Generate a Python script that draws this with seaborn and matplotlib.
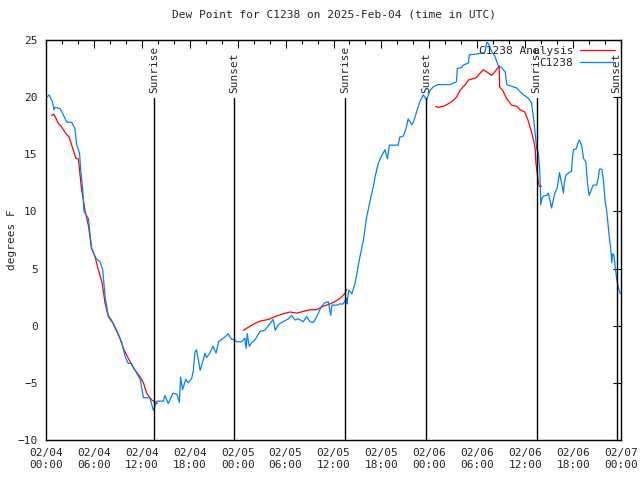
"""Dew point time series for station C1238 with sunrise/sunset markers"""
import matplotlib
matplotlib.use("Agg")
import matplotlib.pyplot as plt
import matplotlib.dates as mdates
import seaborn as sns
import pandas as pd
import numpy as np

# observed dew point (hours since 2025-02-04 00:00 UTC, degrees F)
obs_hours = [
    0.1, 0.4, 0.8, 1.0, 1.1, 1.75, 2.0, 2.6, 3.2, 3.6, 3.85, 4.2, 4.35, 4.6, 4.75,
    5.3, 5.7, 6.25, 6.75, 7.1, 7.4, 7.8, 8.2, 9.05, 9.5, 9.9, 10.3, 10.7, 11.15,
    11.8, 12.2, 13.0, 13.45, 13.9, 14.7, 14.9, 15.3, 15.9, 16.4, 16.7, 16.85, 17.1,
    17.5, 17.8, 18.25, 18.45, 18.65, 18.85, 19.3, 19.7, 19.9, 20.1, 20.5, 20.9,
    21.3, 21.6, 22.0, 22.4, 22.8, 23.25, 23.45, 23.9, 24.5, 24.9, 25.05, 25.2,
    25.45, 25.75, 26.2, 26.8, 27.4, 27.85, 28.45, 28.7, 29.1, 29.7, 30.35, 30.75,
    31.2, 31.6, 32.2, 32.65, 33.05, 33.5, 33.9, 34.5, 34.9, 35.35, 35.65, 35.8,
    36.4, 36.7, 37.2, 37.65, 37.7, 37.9, 38.3, 38.7, 39.3, 39.75, 40.15, 40.6,
    41.0, 41.2, 41.6, 42.05, 42.45, 42.75, 43.0, 44.1, 44.3, 44.75, 45.1, 45.35,
    45.8, 46.0, 46.4, 46.8, 47.25, 47.65, 48.1, 48.5, 49.1, 50.6, 51.4, 51.5,
    52.05, 52.25, 52.9, 53.0, 54.1, 54.95, 55.2, 55.4, 55.8, 56.2, 56.65, 57.05,
    57.5, 57.7, 58.5, 58.95, 59.35, 59.8, 60.2, 60.4, 60.8, 61.05, 61.25, 61.45,
    61.65, 61.8, 61.9, 61.95, 62.1, 62.3, 62.7, 62.9, 63.1, 63.3, 63.5, 63.7,
    64.0, 64.3, 64.55, 64.8, 64.9, 65.1, 65.5, 65.8, 65.95, 66.05, 66.4, 66.65,
    66.8, 67.1, 67.3, 67.6, 67.8, 68.0, 68.3, 68.5, 68.95, 69.15, 69.3, 69.6,
    69.8, 70.0, 70.2, 70.4, 70.55, 70.7, 70.85, 70.95, 71.1, 71.25, 71.45, 71.65,
    71.9,
]
obs_dewpt = [
    20.0, 20.2, 19.6, 18.9, 19.1, 19.0, 18.7, 17.8, 17.8, 17.3, 15.8, 15.1, 13.6,
    11.9, 10.0, 9.4, 6.8, 5.9, 5.6, 4.9, 2.5, 0.9, 0.5, -0.7, -1.5, -2.7, -3.3,
    -3.3, -3.9, -4.7, -6.3, -6.3, -7.4, -6.6, -6.6, -6.1, -6.8, -5.9, -6.0, -6.7,
    -4.5, -5.6, -4.7, -5.0, -4.6, -3.9, -2.3, -2.1, -3.9, -3.0, -2.4, -2.8, -2.4,
    -1.8, -2.4, -1.4, -1.2, -1.0, -0.7, -1.2, -1.2, -1.4, -1.4, -1.1, -2.0, -0.7,
    -1.8, -1.5, -1.2, -0.5, -0.4, 0.0, 0.55, -0.4, 0.1, 0.35, 0.6, 0.9, 0.5, 0.6,
    0.35, 0.8, 0.35, 0.3, 0.8, 1.7, 2.0, 2.1, 0.9, 1.8, 1.8, 1.9, 1.9, 2.4, 1.9,
    3.1, 2.8, 3.7, 6.0, 7.5, 9.5, 11.0, 12.2, 13.0, 14.2, 14.9, 15.4, 14.6, 15.8,
    15.8, 16.5, 16.6, 17.3, 18.1, 17.6, 17.8, 18.7, 19.6, 20.2, 19.75, 20.6, 20.9,
    21.1, 21.1, 21.35, 22.5, 22.6, 22.8, 23.0, 23.7, 23.8, 23.9, 24.8, 24.7, 24.0,
    23.6, 22.7, 22.6, 22.2, 21.1, 20.9, 20.8, 20.5, 20.2, 20.0, 19.9, 19.5, 18.15,
    16.8, 15.5, 15.1, 13.9, 12.2, 10.6, 11.15, 11.35, 11.4, 11.6, 11.0, 10.3, 10.9,
    11.6, 12.0, 13.4, 12.5, 11.6, 12.5, 13.2, 13.4, 13.5, 14.9, 15.4, 15.5, 16.1,
    16.25, 15.7, 14.65, 14.35, 12.5, 11.4, 11.9, 12.3, 12.3, 12.9, 13.7, 13.7,
    12.75, 11.0, 10.1, 8.7, 7.65, 6.9, 5.5, 6.3, 6.2, 5.3, 4.15, 3.4, 2.8,
]

# analysis dew point, three separate runs
ana_hours_1 = [
    0.7, 1.0, 1.55, 1.95, 2.5, 2.9, 3.4, 3.75, 4.05, 4.25, 4.45, 4.65, 4.9, 5.3,
    5.7, 6.15, 6.55, 7.0, 7.4, 7.8, 8.4, 8.85, 9.25, 9.7, 10.3, 10.95, 11.8, 12.2,
    12.6, 13.25, 13.95,
]
ana_dewpt_1 = [
    18.4, 18.5, 17.7, 17.4, 16.8, 16.5, 15.4, 14.65, 14.6, 13.3, 11.9, 11.15, 10.0,
    8.8, 6.8, 6.0, 4.9, 3.85, 1.95, 0.8, 0.2, -0.5, -1.1, -2.0, -2.85, -3.7, -4.5,
    -5.0, -5.9, -6.5, -6.8,
]
ana_hours_2 = [
    24.7, 25.3, 26.15, 26.8, 27.85, 28.7, 29.5, 30.55, 31.4, 32.2, 33.05, 33.9,
    34.7, 35.55, 36.4, 37.0, 37.45, 37.65,
]
ana_dewpt_2 = [
    -0.4, -0.15, 0.2, 0.4, 0.55, 0.8, 1.0, 1.2, 1.1, 1.25, 1.4, 1.4, 1.7, 1.9,
    2.2, 2.5, 2.85, 3.2,
]
ana_hours_3 = [
    48.8, 49.1, 49.95, 50.8, 51.4, 51.85, 52.5, 52.9, 53.9, 54.35, 54.75, 55.2,
    55.8, 56.2, 56.75, 56.8, 57.25, 57.65, 58.3, 58.95, 59.35, 59.95, 60.35, 60.8,
    61.1, 61.25, 61.35, 61.65, 61.75, 62.05,
]
ana_dewpt_3 = [
    19.2, 19.1, 19.25, 19.6, 20.0, 20.6, 21.1, 21.5, 21.7, 22.1, 22.4, 22.2, 21.9,
    22.2, 22.75, 20.9, 20.5, 19.9, 19.3, 19.2, 18.9, 18.7, 18.0, 16.95, 16.1, 15.5,
    14.2, 12.6, 12.2, 12.2,
]

# sunrise / sunset (hours since start)
sun_hours = [13.5, 23.55, 37.5, 47.57, 61.45, 71.45]
sun_labels = ["Sunrise", "Sunset", "Sunrise", "Sunset", "Sunrise", "Sunset"]

start = pd.Timestamp("2025-02-04 00:00")


def to_time(hours):
    return start + pd.to_timedelta(np.array(hours), unit="h")


obs = pd.DataFrame({"time": to_time(obs_hours), "dewpt": obs_dewpt})
ana_runs = [
    pd.DataFrame({"time": to_time(h), "dewpt": v})
    for h, v in [(ana_hours_1, ana_dewpt_1), (ana_hours_2, ana_dewpt_2),
                 (ana_hours_3, ana_dewpt_3)]
]

sns.set_theme(style="white")
plt.rcParams["font.family"] = ["DejaVu Sans Mono"]

fig = plt.figure(figsize=(6.4, 4.8), dpi=100)
ax = fig.add_axes([46 / 640, 1 - 440 / 480, 575 / 640, 400 / 480])

for i, run in enumerate(ana_runs):
    sns.lineplot(data=run, x="time", y="dewpt", color="#ff0000", linewidth=0.9,
                 ax=ax, label="C1238 Analysis" if i == 0 else None,
                 legend=(i == 0))
sns.lineplot(data=obs, x="time", y="dewpt", color="#0080ff", linewidth=0.9,
             ax=ax, label="C1238")

for h, lab in zip(sun_hours, sun_labels):
    t = to_time([h])[0]
    ax.plot([t, t], [-10, 19.9], color="black", linewidth=1.0)
    ax.text(t, 20.4, lab, rotation=90, ha="center", va="bottom", fontsize=8)

ax.set_xlim(start, start + pd.Timedelta(hours=72))
ax.set_ylim(-10, 25)
ax.set_yticks(range(-10, 30, 5))
ax.xaxis.set_major_locator(mdates.HourLocator(byhour=[0, 6, 12, 18]))
ax.xaxis.set_minor_locator(mdates.HourLocator(interval=2))
ax.xaxis.set_major_formatter(mdates.DateFormatter("%m/%d\n%H:%M"))
ax.tick_params(which="both", direction="in", top=True, right=True,
               labelsize=8, color="black", width=0.8)
ax.tick_params(which="major", length=6, pad=6)
ax.tick_params(which="minor", length=3)
for sp in ax.spines.values():
    sp.set_color("black")
    sp.set_linewidth(1.0)

ax.set_xlabel("")
ax.set_ylabel("degrees F", fontsize=8)
ax.yaxis.set_label_coords(-0.05, 0.5)
ax.set_title("Dew Point for C1238 on 2025-Feb-04 (time in UTC)", fontsize=8, pad=16)

handles, labels = ax.get_legend_handles_labels()
keep = {}
for hnd, lab in zip(handles, labels):
    keep.setdefault(lab, hnd)
ax.legend(list(keep.values()), list(keep.keys()), loc="upper right", frameon=False,
          markerfirst=False, fontsize=8, handlelength=3.2, borderaxespad=0.1,
          labelspacing=0.2, handletextpad=0.6)

fig.savefig("out.png", dpi=100)
